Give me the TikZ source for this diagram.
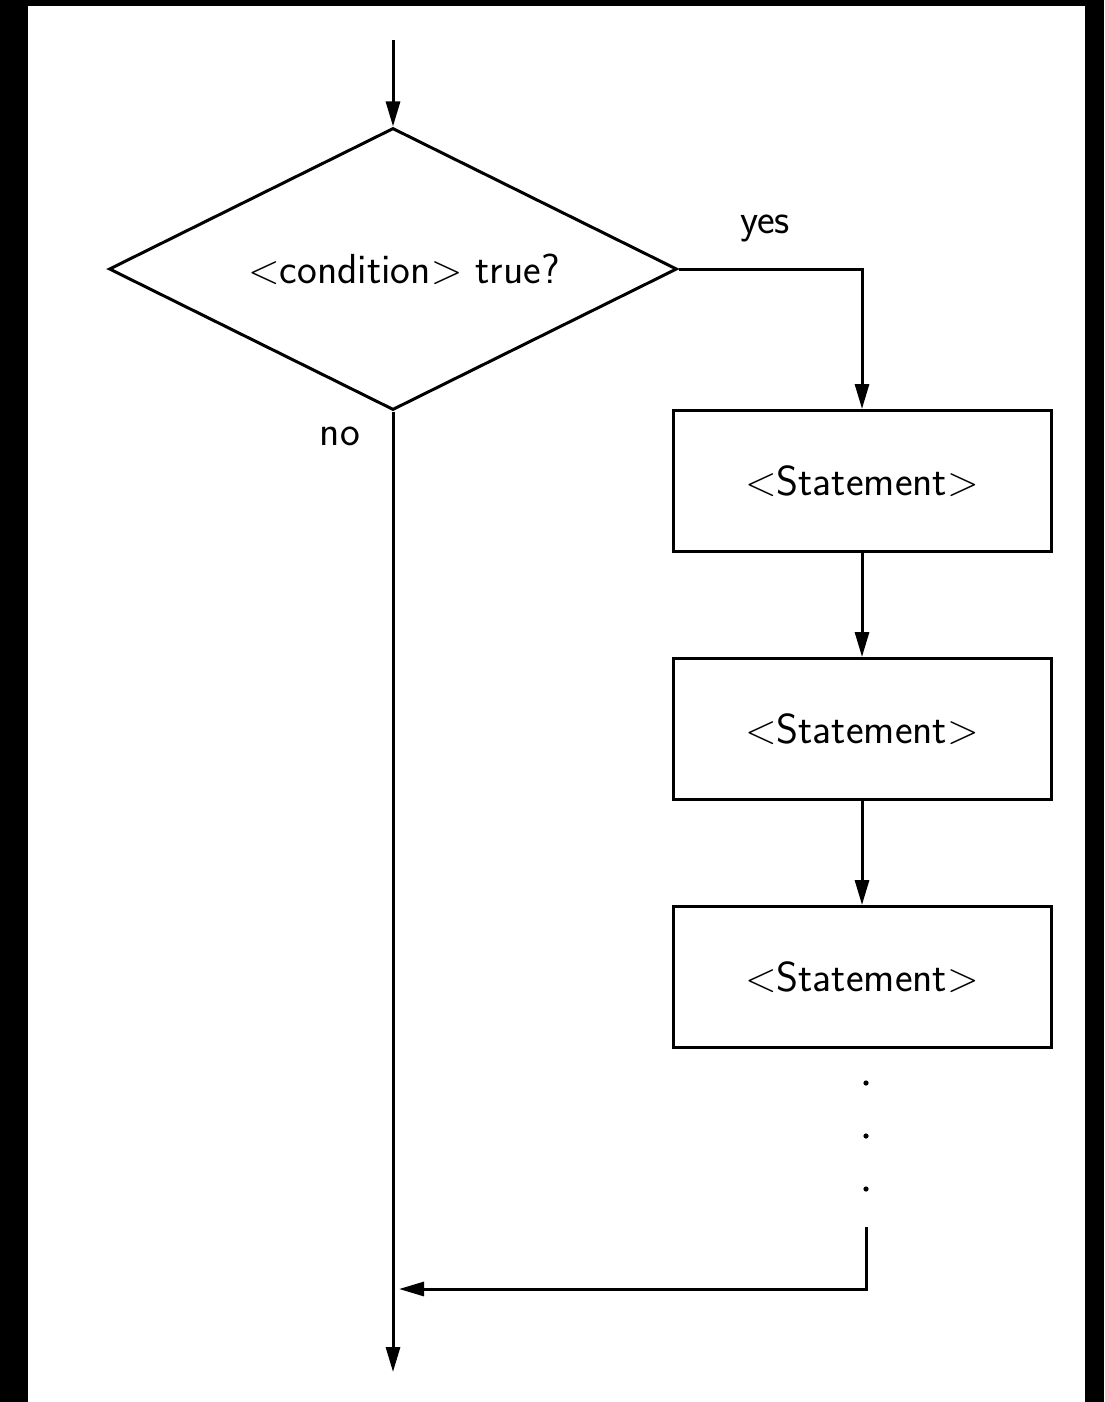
\documentclass[tikz,border=0pt]{standalone}
\usetikzlibrary{arrows.meta,shapes.geometric}
\begin{document}
\begin{tikzpicture}[x=0.5pt,y=-0.5pt,
  every node/.style={font=\sffamily\fontsize{21}{25}\selectfont},
  line/.style={line width=1.5pt},
  arr/.style={line, -{Triangle[length=12.5pt,width=7pt]}},
  decision/.style={diamond, draw, line width=1.5pt, inner sep=0pt, aspect=2,
                   minimum width=284pt, minimum height=141pt},
  stmt/.style={rectangle, draw, line width=1.5pt, inner sep=0pt,
               minimum width=189pt, minimum height=70.5pt},
  dotmark/.style={circle, fill, inner sep=0pt, minimum size=2.6pt}]

% page with its dark frame on the left, top and right
\fill[black] (0,0) rectangle (1104,1402);
\fill[white] (28,6) rectangle (1085,1402);
\useasboundingbox (0,0) rectangle (1104,1402);

% nodes
\node[decision] (cond) at (393,269) {\hspace*{11pt}$<$condition$>$ true?};
\node[stmt] (s1) at (862,481) {$<$Statement$>$};
\node[stmt] (s2) at (862,729) {$<$Statement$>$};
\node[stmt] (s3) at (862,977) {$<$Statement$>$};
\node (yes) at (765,228) {yes};
\node (no) at (340,436) {no};
\node[dotmark] (d1) at (866,1083) {};
\node[dotmark] (d2) at (866,1136) {};
\node[dotmark] (d3) at (866,1189) {};

\coordinate (start) at (393,40);
\coordinate (back) at (866,1227);
\coordinate (join) at (399,1289);
\coordinate (finish) at (393,1372);

% connectors
\draw[arr] (start) -- (cond.north);
\draw[arr] (cond.east) -| (s1.north);
\draw[arr] (s1.south) -- (s2.north);
\draw[arr] (s2.south) -- (s3.north);
\draw[arr] (back) |- (join);
\draw[arr] (cond.south) -- (finish);
\end{tikzpicture}
\end{document}
